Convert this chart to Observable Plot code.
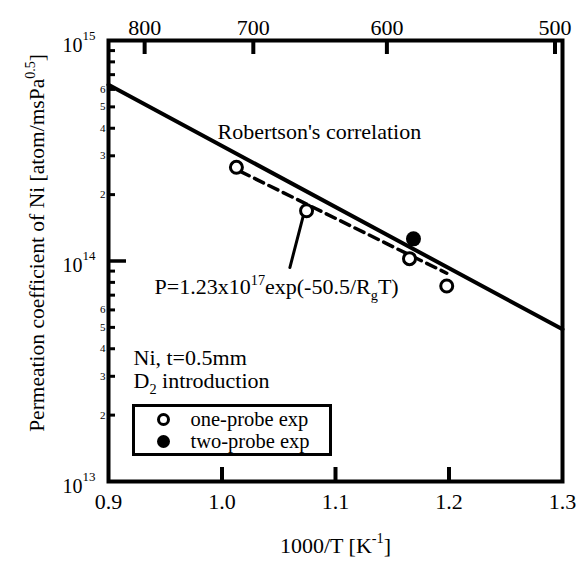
<!DOCTYPE html>
<html><head><meta charset="utf-8">
<script src="https://cdn.jsdelivr.net/npm/d3@7"></script>
<script src="https://cdn.jsdelivr.net/npm/@observablehq/plot@0.6"></script>
<style>
body{margin:0;background:#fff;}
#chart svg{display:block;}
</style></head><body><div id="chart"></div>
<script>
// ---- data ----
const robertsonX = [0.9, 1.3];
const robertsonY = [6.3e14, 4.9e13];
const oneProbeX = [1.0127, 1.0745, 1.1652, 1.198];
const oneProbeY = [2.66e14, 1.69e14, 1.025e14, 7.7e13];
const twoProbeX = [1.1687];
const twoProbeY = [1.26e14];
const fitX = [1.016, 1.198];
const fitY = [2.55e14, 8.8e13];
const pointerX = [1.0716, 1.0598];
const pointerY = [1.6e14, 9.34e13];

// ---- axis ticks ----
const bottomLabels = [0.9, 1.0, 1.1, 1.2, 1.3];
const bottomTicks = [1.0, 1.1, 1.2];
const topTempsC = [800, 700, 600, 500];
const yMajor = [1e13, 1e14, 1e15];
const yMinorDigits = [2, 3, 4, 5, 6, 7, 8, 9];
const yMinorLabelDigits = [2, 3, 4, 5, 6];
const decades = [1e13, 1e14];

// ---- texts ----
const xTitle = "1000/T [K^{-1}]";
const yTitle = "Permeation coefficient of Ni [atom/msPa^{0.5}]";
const robertsonLabel = "Robertson's correlation";
const fitLabel = "P=1.23x10^{17}exp(-50.5/R_{g}T)";
const noteLines = ["Ni, t=0.5mm", "D_{2} introduction"];
const legendLabels = ["one-probe exp", "two-probe exp"];

// ---- derived tables ----
const robertson = robertsonX.map((x, i) => ({x, y: robertsonY[i]}));
const oneProbe = oneProbeX.map((x, i) => ({x, y: oneProbeY[i]}));
const twoProbe = twoProbeX.map((x, i) => ({x, y: twoProbeY[i]}));
const fit = fitX.map((x, i) => ({x, y: fitY[i]}));
const pointer = pointerX.map((x, i) => ({x, y: pointerY[i]}));
const topTicks = topTempsC.map(c => 1000 / (c + 273.15));
const minorTicks = decades.flatMap(d => yMinorDigits.map(k => k * d));
const minorLabelTicks = decades.flatMap(d => yMinorLabelDigits.map(k => k * d));
const leading = v => String(Math.round(v / 10 ** Math.floor(Math.log10(v) + 1e-9)));

const FONT = "Liberation Serif";
const FS = 22;

const plot = Plot.plot({
  width: 582,
  height: 568,
  marginLeft: 108,
  marginRight: 20,
  marginTop: 40,
  marginBottom: 87,
  x: {domain: [0.9, 1.3], axis: null},
  y: {type: "log", domain: [1e13, 1e15], axis: null},
  style: {fontFamily: FONT, fontSize: FS + "px", color: "black", background: "white", overflow: "visible"},
  marks: [
    // axes
    Plot.axisX(bottomLabels, {anchor: "bottom", tickSize: 0, tickPadding: 12, fontSize: FS, label: null, tickFormat: d => d.toFixed(1)}),
    Plot.axisX(bottomTicks, {anchor: "bottom", tickSize: -14, strokeWidth: 4, tickFormat: () => "", label: null}),
    Plot.axisX(topTicks, {anchor: "top", tickSize: 0, tickPadding: 6, fontSize: FS, label: null, tickFormat: d => String(Math.round(1000 / d - 273.15))}),
    Plot.axisX(topTicks, {anchor: "top", tickSize: -13, strokeWidth: 4, tickFormat: () => "", label: null}),
    Plot.axisY(minorTicks, {anchor: "left", tickSize: -7, strokeWidth: 3, tickFormat: () => "", label: null}),
    Plot.axisY([1e14], {anchor: "left", tickSize: -18, strokeWidth: 3.5, tickFormat: () => "", label: null}),
    Plot.axisY(minorLabelTicks, {anchor: "left", tickSize: 0, tickPadding: 3, fontSize: 11, tickFormat: leading, label: null}),
    Plot.text(yMajor, {y: d => d, text: () => "10", frameAnchor: "left", dx: -26, dy: 5, textAnchor: "end", fontSize: 20}),
    Plot.text(yMajor, {y: d => d, text: d => String(Math.round(Math.log10(d))), frameAnchor: "left", dx: -26, dy: -5, textAnchor: "start", fontSize: 13}),
    Plot.text([xTitle], {frameAnchor: "bottom", dy: 64, textAnchor: "middle", lineAnchor: "middle", fontSize: FS}),
    Plot.text([yTitle], {frameAnchor: "left", dx: -71, dy: -18, rotate: -90, textAnchor: "middle", lineAnchor: "middle", fontSize: 21.5}),

    // data
    Plot.line(robertson, {x: "x", y: "y", stroke: "black", strokeWidth: 4}),
    Plot.line(fit, {x: "x", y: "y", stroke: "black", strokeWidth: 3.5, strokeDasharray: "10,6"}),
    Plot.line(pointer, {x: "x", y: "y", stroke: "black", strokeWidth: 3}),
    Plot.dot(oneProbe, {x: "x", y: "y", r: 6, stroke: "black", strokeWidth: 3, fill: "white"}),
    Plot.dot(twoProbe, {x: "x", y: "y", r: 7.5, fill: "black", stroke: "none"}),

    // annotations
    Plot.text([robertsonLabel], {x: 0.996, y: 3.85e14, textAnchor: "start", fontSize: FS}),
    Plot.text([fitLabel], {x: 0.9406, y: 7.6e13, textAnchor: "start", fontSize: FS}),
    Plot.text([noteLines[0]], {frameAnchor: "top-left", dx: 25, dy: 317, textAnchor: "start", lineAnchor: "middle", fontSize: FS}),
    Plot.text([noteLines[1]], {frameAnchor: "top-left", dx: 25, dy: 340, textAnchor: "start", lineAnchor: "middle", fontSize: FS}),

    // legend
    Plot.frame({insetLeft: 25, insetRight: 232, insetTop: 365, insetBottom: 27, stroke: "black", strokeWidth: 3}),
    Plot.dot([0], {frameAnchor: "top-left", dx: 55, dy: 379, r: 5, stroke: "black", strokeWidth: 3, fill: "white"}),
    Plot.dot([0], {frameAnchor: "top-left", dx: 55, dy: 401, r: 6.5, fill: "black"}),
    Plot.text([legendLabels[0]], {frameAnchor: "top-left", dx: 82, dy: 379, textAnchor: "start", lineAnchor: "middle", fontSize: 20.5}),
    Plot.text([legendLabels[1]], {frameAnchor: "top-left", dx: 82, dy: 401, textAnchor: "start", lineAnchor: "middle", fontSize: 20.5}),

    Plot.frame({stroke: "black", strokeWidth: 4})
  ]
});

document.getElementById("chart").appendChild(plot);

// turn ^{..} and _{..} into super/subscript tspans
(function richText(root) {
  const NS = "http://www.w3.org/2000/svg";
  root.querySelectorAll("text").forEach(t => {
    const s = t.textContent;
    if (!/[\^_]\{/.test(s)) return;
    const fs = parseFloat(getComputedStyle(t).fontSize) || 18;
    while (t.firstChild) t.removeChild(t.firstChild);
    let shift = 0;
    s.split(/([\^_]\{[^}]*\})/).forEach(p => {
      if (!p) return;
      const ts = document.createElementNS(NS, "tspan");
      let target = 0, size = null;
      if (p.startsWith("^{")) { target = -0.42 * fs; size = 0.65 * fs; p = p.slice(2, -1); }
      else if (p.startsWith("_{")) { target = 0.28 * fs; size = 0.65 * fs; p = p.slice(2, -1); }
      ts.setAttribute("dy", (target - shift).toFixed(2));
      shift = target;
      if (size) ts.setAttribute("font-size", size.toFixed(2));
      ts.textContent = p;
      t.appendChild(ts);
    });
  });
})(plot);
</script></body></html>
